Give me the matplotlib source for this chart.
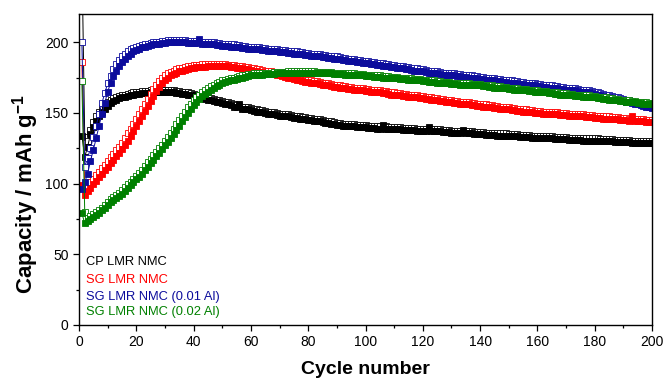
import matplotlib
matplotlib.use("Agg")
import matplotlib.pyplot as plt
from matplotlib.ticker import MultipleLocator
import numpy as np

plt.rcParams['font.family'] = ['Liberation Sans', 'DejaVu Sans']
plt.rcParams['mathtext.fontset'] = 'custom'
plt.rcParams['mathtext.rm'] = 'Liberation Sans'
plt.rcParams['mathtext.bf'] = 'Liberation Sans:bold'

cycles = np.arange(1, 201)

# ---- CP LMR NMC ----
cp_dis = [134, 119, 126, 135, 140, 144.5, 148, 150.5, 152.5, 155,
          157, 158.5, 159.5, 160.5, 161, 161.5, 162, 162.5, 163, 163.5,
          163.5, 164, 164, 164, 164.5, 164.5, 164.5, 164.5, 164.5, 164.5,
          164.5, 164.5, 164.5, 164, 164, 163.5, 163.5, 163, 162.5, 162,
          162.5, 161, 160.5, 160, 159.5, 159, 158.5, 158, 157.5, 157,
          156.5, 156, 155.5, 154.5, 154, 156.5, 153, 152.5, 152.5, 152,
          151.5, 151, 150.5, 150.5, 150, 149.5, 149, 149, 148.5, 148,
          148, 147.5, 147.5, 147, 146.5, 146.5, 146, 145.5, 145.5, 145,
          145, 144.5, 144, 144, 143.5, 143, 143, 142.5, 142, 141.5,
          141.5, 141, 141, 140.5, 140.5, 140.5, 140, 140, 140, 140,
          139.5, 139.5, 139.5, 139, 139, 141.5, 139, 138.5, 138.5, 138.5,
          138.5, 138.5, 138, 138, 138, 138, 138, 137.5, 137.5, 137.5,
          137.5, 140, 137.5, 137, 137, 137, 136.5, 136.5, 136.5, 136,
          136, 136, 136, 138, 135.5, 135.5, 135.5, 135, 135, 135,
          135, 134.5, 134.5, 134.5, 134.5, 134, 134, 134, 134, 133.5,
          133.5, 133.5, 133.5, 133, 133, 133, 133, 132.5, 132.5, 132.5,
          132.5, 132, 132, 132, 132, 131.5, 131.5, 131.5, 131.5, 131.5,
          131, 131, 131, 131, 131, 130.5, 130.5, 130.5, 130.5, 130.5,
          130.5, 130, 130, 130, 130, 130, 129.5, 129.5, 129.5, 129.5,
          129.5, 129.5, 129, 129, 129, 129, 129, 129, 128.5, 128.5]
cp_chg = [262, 133, 130, 138, 143.5, 147.5, 151, 153.5, 155.5, 157.5,
          159, 160.5, 161.5, 162, 162.5, 163, 163.5, 164, 164.5, 165,
          165, 165.5, 165.5, 165.5, 166, 166, 166, 166, 166, 166,
          166, 166, 166, 165.5, 165.5, 165, 165, 164.5, 164, 163.5,
          163, 162.5, 162, 161.5, 161, 160.5, 160, 159.5, 159, 158.5,
          158, 157.5, 157, 156, 155.5, 155, 154.5, 154, 154, 153.5,
          153, 152.5, 152, 152, 151.5, 151, 150.5, 150.5, 150, 149.5,
          149.5, 149, 149, 148.5, 148, 148, 147.5, 147, 147, 146.5,
          146.5, 146, 145.5, 145.5, 145, 144.5, 144.5, 144, 143.5, 143,
          143, 142.5, 142.5, 142, 142, 142, 141.5, 141.5, 141.5, 141.5,
          141, 141, 141, 140.5, 140.5, 140.5, 140.5, 140, 140, 140,
          140, 140, 139.5, 139.5, 139.5, 139.5, 139.5, 139, 139, 139,
          139, 139, 139, 138.5, 138.5, 138.5, 138, 138, 138, 137.5,
          137.5, 137.5, 137.5, 137.5, 137, 137, 137, 136.5, 136.5, 136.5,
          136.5, 136, 136, 136, 136, 135.5, 135.5, 135.5, 135.5, 135,
          135, 135, 135, 134.5, 134.5, 134.5, 134.5, 134, 134, 134,
          134, 133.5, 133.5, 133.5, 133.5, 133, 133, 133, 133, 133,
          132.5, 132.5, 132.5, 132.5, 132.5, 132, 132, 132, 132, 132,
          132, 131.5, 131.5, 131.5, 131.5, 131.5, 131, 131, 131, 131,
          131, 131, 130.5, 130.5, 130.5, 130.5, 130.5, 130.5, 130, 130]

# ---- SG LMR NMC ----
sg_dis = [99, 92, 94.5, 97, 99.5, 102, 104.5, 107, 109.5, 112,
          114.5, 117, 119.5, 122, 124.5, 127.5, 130.5, 134, 137.5, 141,
          144.5, 148, 151.5, 155, 158.5, 162, 165.5, 168.5, 171, 173,
          175, 176.5, 177.5, 178.5, 179.5, 180, 180.5, 181, 181.5, 182,
          182.5, 182.5, 182.5, 182.5, 183, 183, 183, 183, 183, 183,
          183, 183, 182.5, 182.5, 182, 182, 181.5, 181, 181, 180.5,
          180, 179.5, 179, 179, 178.5, 178, 177.5, 177.5, 177, 176.5,
          176, 175.5, 175, 174.5, 174, 173.5, 173, 172.5, 172, 172,
          171.5, 171, 171, 170.5, 170, 169.5, 169.5, 169, 168.5, 168.5,
          168, 167.5, 167.5, 167, 167, 166.5, 166.5, 166, 166, 165.5,
          165.5, 165, 165, 164.5, 164.5, 164, 164, 163.5, 163, 163,
          162.5, 162.5, 162, 162, 161.5, 161.5, 161, 161, 160.5, 160.5,
          160, 160, 159.5, 159, 159, 158.5, 158.5, 158, 157.5, 157.5,
          157, 157, 156.5, 156.5, 156, 156, 155.5, 155.5, 155, 155,
          154.5, 154.5, 154, 154, 153.5, 153.5, 153, 153, 152.5, 152.5,
          152, 152, 151.5, 151.5, 151, 151, 150.5, 150.5, 150, 150,
          150, 149.5, 149.5, 149.5, 149, 149, 149, 148.5, 148.5, 148.5,
          148, 148, 148, 147.5, 147.5, 147.5, 147, 147, 147, 146.5,
          146.5, 146.5, 146, 146, 146, 145.5, 145.5, 145.5, 145, 145,
          145, 144.5, 147.5, 144.5, 144, 144, 144, 143.5, 143.5, 143.5]
sg_chg = [186, 96, 98.5, 101, 103.5, 106, 108.5, 111, 113.5, 116,
          118.5, 121, 123.5, 126, 129, 132, 135.5, 139, 142.5, 146,
          149.5, 153, 156.5, 160, 163.5, 167, 170, 172.5, 174.5, 176.5,
          178, 179, 180, 181, 181.5, 182, 182.5, 183, 183.5, 184,
          184, 184, 184.5, 184.5, 184.5, 184.5, 184.5, 184.5, 184.5, 184.5,
          184.5, 184, 184, 184, 183.5, 183.5, 183, 182.5, 182.5, 182,
          181.5, 181, 181, 180.5, 180, 179.5, 179.5, 179, 178.5, 178,
          177.5, 177, 176.5, 176, 175.5, 175, 174.5, 174, 173.5, 173.5,
          173, 172.5, 172.5, 172, 171.5, 171, 171, 170.5, 170, 170,
          169.5, 169, 169, 168.5, 168.5, 168, 168, 167.5, 167.5, 167,
          167, 166.5, 166.5, 166, 166, 165.5, 165.5, 165, 164.5, 164.5,
          164, 164, 163.5, 163.5, 163, 163, 162.5, 162.5, 162, 162,
          161.5, 161.5, 161, 160.5, 160.5, 160, 160, 159.5, 159, 159,
          158.5, 158.5, 158, 158, 157.5, 157.5, 157, 157, 156.5, 156.5,
          156, 156, 155.5, 155.5, 155, 155, 154.5, 154.5, 154, 154,
          153.5, 153.5, 153, 153, 152.5, 152.5, 152, 152, 151.5, 151.5,
          151.5, 151, 151, 151, 150.5, 150.5, 150.5, 150, 150, 150,
          149.5, 149.5, 149.5, 149, 149, 149, 148.5, 148.5, 148.5, 148,
          148, 148, 147.5, 147.5, 147.5, 147, 147, 147, 146.5, 146.5,
          146.5, 146, 146, 146, 145.5, 145.5, 145.5, 145, 145, 145]

# ---- SG LMR NMC (0.01 Al) ----
al1_dis = [96, 101, 107, 116, 124, 132, 141, 149, 157, 165,
           171, 176, 180, 183, 186, 188, 190, 192, 193.5, 194.5,
           195.5, 196.5, 197, 197.5, 198, 198.5, 199, 199, 199.5, 199.5,
           200, 200, 200, 200, 200, 200, 200, 199.5, 199.5, 199.5,
           199.5, 202.5, 199, 199, 198.5, 198.5, 198.5, 198, 198, 197.5,
           197.5, 197.5, 197, 197, 196.5, 196.5, 196, 196, 195.5, 195.5,
           195, 195, 195, 194.5, 194.5, 194, 194, 193.5, 193.5, 193,
           193, 193, 192.5, 192.5, 192, 192, 191.5, 191.5, 191, 191,
           190.5, 190.5, 190, 190, 189.5, 189.5, 189, 189, 188.5, 188.5,
           188, 187.5, 187.5, 187, 187, 186.5, 186, 186, 185.5, 185.5,
           185, 184.5, 184.5, 184, 184, 183.5, 183, 183, 182.5, 182.5,
           182, 181.5, 181.5, 181, 181, 180.5, 180, 180, 179.5, 179.5,
           179, 178.5, 178.5, 178, 178, 177.5, 177, 177, 176.5, 176.5,
           176.5, 176, 176, 175.5, 175.5, 175, 175, 174.5, 174.5, 174,
           174, 173.5, 173.5, 173, 173, 172.5, 172.5, 172, 172, 171.5,
           171.5, 171, 171, 170.5, 170.5, 170, 170, 169.5, 169.5, 169,
           169, 168.5, 168.5, 168, 168, 167.5, 167.5, 167, 167, 166.5,
           166.5, 166, 166, 165.5, 165, 165, 164.5, 164.5, 164, 163.5,
           163, 162.5, 162, 161.5, 161, 160.5, 160, 159.5, 159, 158.5,
           158, 157.5, 157, 156.5, 156, 155.5, 155, 154.5, 154, 153.5]
al1_chg = [200, 112, 118, 125, 133, 141, 149, 157, 164, 171,
           176, 181, 184.5, 187.5, 190, 192, 193.5, 195, 196, 197,
           197.5, 198, 198.5, 199, 199.5, 200, 200.5, 200.5, 201, 201,
           201.5, 201.5, 201.5, 201.5, 201.5, 201.5, 201.5, 201, 201, 201,
           201, 200.5, 200.5, 200.5, 200, 200, 200, 199.5, 199.5, 199,
           199, 199, 198.5, 198.5, 198, 198, 197.5, 197.5, 197, 197,
           196.5, 196.5, 196.5, 196, 196, 195.5, 195.5, 195, 195, 194.5,
           194.5, 194.5, 194, 194, 193.5, 193.5, 193, 193, 192.5, 192.5,
           192, 192, 191.5, 191.5, 191, 191, 190.5, 190.5, 190, 190,
           189.5, 189, 189, 188.5, 188.5, 188, 187.5, 187.5, 187, 187,
           186.5, 186, 186, 185.5, 185.5, 185, 184.5, 184.5, 184, 184,
           183.5, 183, 183, 182.5, 182.5, 182, 181.5, 181.5, 181, 181,
           180.5, 180, 180, 179.5, 179.5, 179, 178.5, 178.5, 178, 178,
           178, 177.5, 177.5, 177, 177, 176.5, 176.5, 176, 176, 175.5,
           175.5, 175, 175, 174.5, 174.5, 174, 174, 173.5, 173.5, 173,
           173, 172.5, 172.5, 172, 172, 171.5, 171.5, 171, 171, 170.5,
           170.5, 170, 170, 169.5, 169.5, 169, 169, 168.5, 168.5, 168,
           168, 167.5, 167.5, 167, 166.5, 166.5, 166, 166, 165.5, 165,
           164.5, 164, 163.5, 163, 162.5, 162, 161.5, 161, 160.5, 160,
           159.5, 159, 158.5, 158, 157.5, 157, 156.5, 156, 155.5, 155]

# ---- SG LMR NMC (0.02 Al) ----
al2_dis = [79, 72, 73.5, 75, 76.5, 78, 79.5, 81, 83, 85,
           87, 88.5, 90, 91.5, 93, 95, 97, 99, 101, 103,
           105, 107, 109.5, 112, 114.5, 117, 119.5, 122, 124.5, 127,
           129.5, 132, 135, 138, 141, 144, 147, 150, 153, 155.5,
           158, 160, 162, 163.5, 165, 166.5, 168, 169, 170, 171,
           172, 172.5, 173, 173.5, 174, 174.5, 175, 175.5, 176, 176.5,
           176.5, 177, 177, 177, 177.5, 177.5, 177.5, 177.5, 178, 178,
           178, 178, 178, 178.5, 178.5, 178.5, 178.5, 178.5, 178.5, 178.5,
           178.5, 178.5, 178, 178, 178, 178, 178, 178, 177.5, 177.5,
           177.5, 177.5, 177, 177, 177, 177, 176.5, 176.5, 176.5, 176,
           176, 176, 175.5, 175.5, 175.5, 175, 175, 175, 174.5, 174.5,
           174.5, 174, 174, 174, 173.5, 173.5, 173, 173, 173, 172.5,
           172.5, 172, 172, 172, 171.5, 171.5, 171, 171, 171, 170.5,
           170.5, 170.5, 170, 170, 170, 170, 169.5, 169.5, 169.5, 169.5,
           169, 169, 168.5, 168.5, 168, 168, 168, 167.5, 167.5, 167,
           167, 166.5, 166.5, 166, 166, 166, 165.5, 165.5, 165, 165,
           164.5, 164.5, 164.5, 164, 164, 163.5, 163.5, 163, 163, 163,
           162.5, 162.5, 162, 162, 162, 161.5, 161.5, 161.5, 161, 161,
           160.5, 160.5, 160, 160, 159.5, 159.5, 159, 159, 158.5, 158.5,
           158, 158, 157.5, 157.5, 157, 157, 156.5, 156.5, 156, 156]
al2_chg = [172.5, 80, 76, 77, 78.5, 80, 81.5, 83, 85, 87,
           89, 90.5, 92, 93.5, 95.5, 97.5, 99.5, 101.5, 103.5, 105.5,
           107.5, 110, 112.5, 115, 117.5, 120, 122.5, 125, 127.5, 130,
           133, 136, 139, 142, 145, 148, 151, 154, 156.5, 159,
           161, 163, 164.5, 166, 167.5, 169, 170, 171, 172, 173,
           173.5, 174, 174.5, 175, 175.5, 176, 176.5, 177, 177.5, 177.5,
           178, 178, 178, 178.5, 178.5, 178.5, 178.5, 179, 179, 179,
           179, 179, 179.5, 179.5, 179.5, 179.5, 179.5, 179.5, 179.5, 179.5,
           179.5, 179.5, 179, 179, 179, 179, 179, 179, 178.5, 178.5,
           178.5, 178.5, 178, 178, 178, 178, 177.5, 177.5, 177.5, 177,
           177, 177, 176.5, 176.5, 176.5, 176, 176, 176, 175.5, 175.5,
           175.5, 175, 175, 175, 174.5, 174.5, 174, 174, 174, 173.5,
           173.5, 173, 173, 173, 172.5, 172.5, 172, 172, 172, 171.5,
           171.5, 171.5, 171, 171, 171, 171, 170.5, 170.5, 170.5, 170.5,
           170, 170, 169.5, 169.5, 169, 169, 169, 168.5, 168.5, 168,
           168, 167.5, 167.5, 167, 167, 167, 166.5, 166.5, 166, 166,
           165.5, 165.5, 165.5, 165, 165, 164.5, 164.5, 164, 164, 164,
           163.5, 163.5, 163, 163, 163, 162.5, 162.5, 162.5, 162, 162,
           161.5, 161.5, 161, 161, 160.5, 160.5, 160, 160, 159.5, 159.5,
           159, 159, 158.5, 158.5, 158, 158, 157.5, 157.5, 157, 157]

labels = ['CP LMR NMC', 'SG LMR NMC', 'SG LMR NMC (0.01 Al)', 'SG LMR NMC (0.02 Al)']
colors = ['#000000', '#ff0000', '#0c0c9c', '#008000']
charge = [cp_chg, sg_chg, al1_chg, al2_chg]
discharge = [cp_dis, sg_dis, al1_dis, al2_dis]

fig = plt.figure(figsize=(6.66, 3.78), dpi=100)
ax = fig.add_axes([79/666, 53/378, 573/666, 311/378])

# open = charge, filled = discharge
for chg, dis, c in zip(charge, discharge, colors):
    ax.plot(cycles, chg, color=c, lw=0.7, marker='s', ms=4.4,
            mfc='white', mec=c, mew=0.6)
    ax.plot(cycles, dis, color=c, lw=0.7, marker='s', ms=4.4,
            mfc=c, mec=c, mew=0.6)

ax.set_xlim(0, 200)
ax.set_ylim(0, 220)
ax.xaxis.set_major_locator(MultipleLocator(20))
ax.xaxis.set_minor_locator(MultipleLocator(10))
ax.yaxis.set_major_locator(MultipleLocator(50))
ax.yaxis.set_minor_locator(MultipleLocator(25))
ax.tick_params(which='both', direction='out', top=False, right=False, labelsize=10, width=0.9)
ax.tick_params(which='major', length=4)
ax.tick_params(which='minor', length=2.5)
for s in ax.spines.values():
    s.set_linewidth(1.0)

ax.set_xlabel('Cycle number', fontsize=14, fontweight='bold', labelpad=8)
ax.set_ylabel(r'Capacity / mAh g$^{\mathbf{-1}}$', fontsize=16, fontweight='bold')
ax.yaxis.set_label_coords(-0.066, 0.42)

ys = [0.2026, 0.1447, 0.090, 0.0418]
for lab, c, y in zip(labels, colors, ys):
    ax.text(0.012, y, lab, color=c, fontsize=9.3, transform=ax.transAxes, va='center')

fig.savefig('out.png', dpi=100)
